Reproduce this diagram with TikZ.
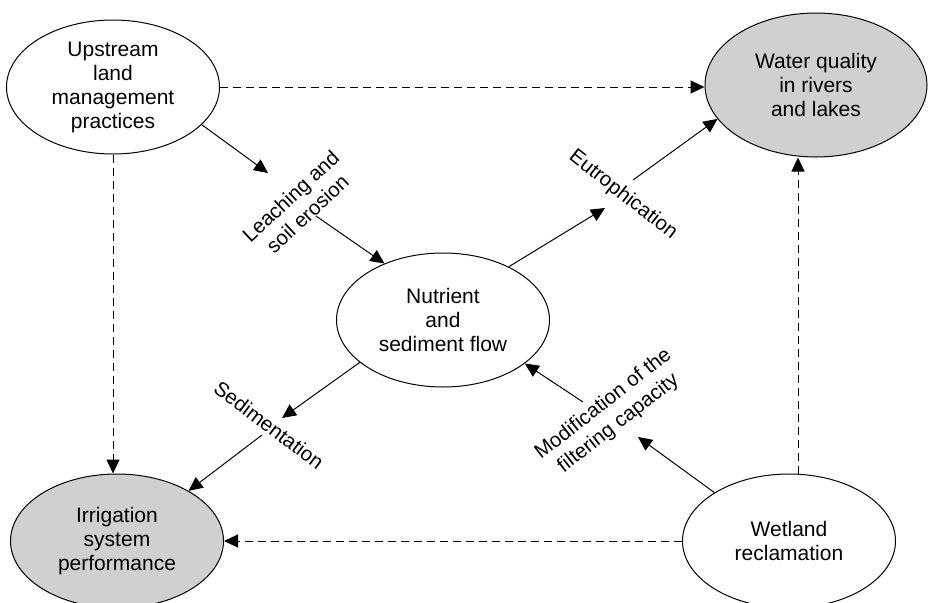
\documentclass[tikz,border=0pt]{standalone}
\usepackage{fontspec}
\setmainfont{Liberation Sans}
\usetikzlibrary{arrows.meta,shapes.geometric}
\definecolor{ellgray}{RGB}{208,208,208}
\begin{document}
\begin{tikzpicture}[x=1pt,y=-1pt,
  txt/.style={align=center,inner sep=0pt,font=\fontsize{21}{24}\selectfont},
  ell/.style={ellipse,draw,line width=1pt,inner sep=0pt,minimum width=213pt,minimum height=134pt},
  grayell/.style={ell,fill=ellgray},
  lbl/.style={align=center,inner sep=1pt,font=\fontsize{20.5}{24.5}\selectfont},
  arr/.style={line width=1pt,-{Triangle[length=14pt,width=13pt]}},
  darr/.style={arr,dash pattern=on 8pt off 5pt}]
\useasboundingbox (0,0) rectangle (930,603);
\node[ell,label={[txt]center:{Upstream\\land\\management\\practices}}] (up) at (113,87) {};
\node[grayell,minimum width=222pt,minimum height=144pt,label={[txt]center:{Water quality\\in rivers\\and lakes}}] (wq) at (816,85) {};
\node[ell,label={[txt]center:{Nutrient\\and\\sediment flow}}] (nut) at (443,320) {};
\node[grayell,label={[txt]center:{Irrigation\\system\\performance}}] (irr) at (117,541) {};
\node[ell,label={[txt]center:{Wetland\\reclamation}}] (wet) at (789,541) {};
% dashed
\draw[darr] (up.east) -- (up.east -| wq.west);
\draw[darr] (up.south) -- (up.south |- irr.north);
\draw[darr] (wet.west) -- (wet.west -| irr.east);
\draw[darr] ([xshift=9pt]wet.north) -- ([xshift=9pt]wet.north |- wq.south);
% labels
\node[lbl,rotate=43] (l1) at (299,205) {Leaching and\\soil erosion};
\node[lbl,rotate=-38] (l2) at (623,195) {Eutrophication};
\node[lbl,rotate=-37] (l3) at (269,425) {Sedimentation};
\node[lbl,rotate=38] (l4) at (611,414) {Modification of the\\filtering capacity};
% solid connectors
\coordinate (c1) at (268,173); \coordinate (c2) at (316,216);
\draw[arr] (up.-23) -- (c1);
\draw[arr] (c2) -- (nut.136);
\coordinate (c3) at (605,208); \coordinate (c4) at (633,180);
\draw[arr] (nut.39.6) -- (c3);
\draw[arr] (c4) -- (wq.199.7);
\coordinate (c5) at (282,418); \coordinate (c6) at (262,435);
\draw[arr] (nut.207) -- (c5);
\draw[arr] (c6) -- (irr.35.8);
\coordinate (c7) at (638,437); \coordinate (c8) at (583,402);
\draw[arr] (wet.147.7) -- (c7);
\draw[arr] (c8) -- (nut.-28.2);
\end{tikzpicture}
\end{document}
